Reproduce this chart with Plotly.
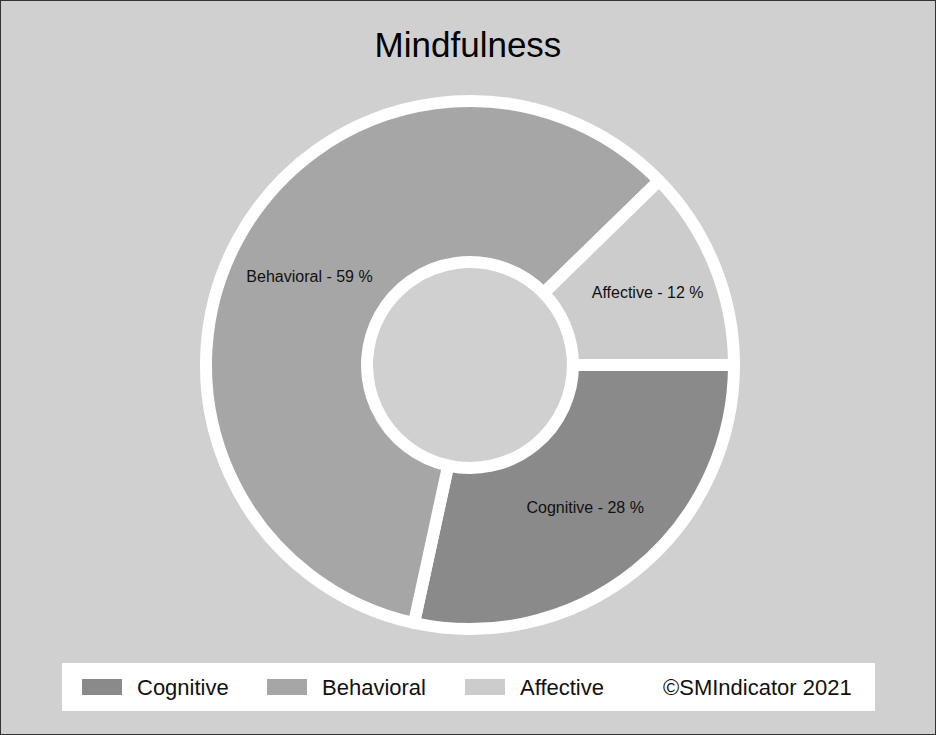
import plotly.graph_objects as go

W, H = 936, 735

categories = ["Cognitive", "Behavioral", "Affective"]
values = [28.4, 59.3, 12.3]
colors = ["#8a8a8a", "#a6a6a6", "#cccccc"]
copyright_text = "©SMIndicator 2021"
title_text = "Mindfulness"

font_family = "Liberation Sans, Arial, sans-serif"

fig = go.Figure()
fig.add_trace(go.Pie(
    labels=categories,
    values=values,
    sort=False,
    direction="clockwise",
    rotation=90,
    hole=0.39,
    marker=dict(colors=colors, line=dict(color="white", width=12)),
    texttemplate="%{label} - %{value:.0f} %",
    textposition="inside",
    insidetextorientation="horizontal",
    textfont=dict(family=font_family, size=16, color="#111111"),
    domain=dict(x=[206 / W, 734 / W], y=[106 / H, 634 / H]),
    showlegend=False,
    hoverinfo="label+percent",
))

shapes = [
    # outer frame
    dict(type="rect", xref="paper", yref="paper", x0=0, x1=1, y0=0, y1=1,
         line=dict(color="#333333", width=2), fillcolor="rgba(0,0,0,0)", layer="above"),
    # legend background
    dict(type="rect", xref="paper", yref="paper",
         x0=62 / W, x1=875 / W, y0=1 - 711 / H, y1=1 - 663 / H,
         line=dict(width=0), fillcolor="white", layer="below"),
]
annotations = []

legend_swatch_x = [82, 267, 465]
legend_y = 687
for cat, col, sx in zip(categories, colors, legend_swatch_x):
    shapes.append(dict(type="rect", xref="paper", yref="paper",
                       x0=sx / W, x1=(sx + 40) / W,
                       y0=1 - (legend_y + 8) / H, y1=1 - (legend_y - 8) / H,
                       line=dict(width=0), fillcolor=col, layer="above"))
    annotations.append(dict(text=cat, xref="paper", yref="paper",
                            x=(sx + 53) / W, y=1 - legend_y / H,
                            xanchor="left", yanchor="middle", showarrow=False,
                            font=dict(family=font_family, size=22, color="#111111")))
annotations.append(dict(text=copyright_text, xref="paper", yref="paper",
                        x=854 / W, y=1 - legend_y / H,
                        xanchor="right", yanchor="middle", showarrow=False,
                        font=dict(family=font_family, size=22, color="#111111")))

fig.update_layout(
    width=W, height=H,
    margin=dict(l=0, r=0, t=0, b=0),
    paper_bgcolor="#d0d0d0",
    plot_bgcolor="#d0d0d0",
    title=dict(text=title_text, x=0.5, xanchor="center", y=1 - 45 / H, yanchor="middle",
               font=dict(family=font_family, size=35, color="#000000")),
    shapes=shapes,
    annotations=annotations,
)

fig.write_html("out.html", config={"displayModeBar": False},
               post_script="document.body.style.margin='0px';")
